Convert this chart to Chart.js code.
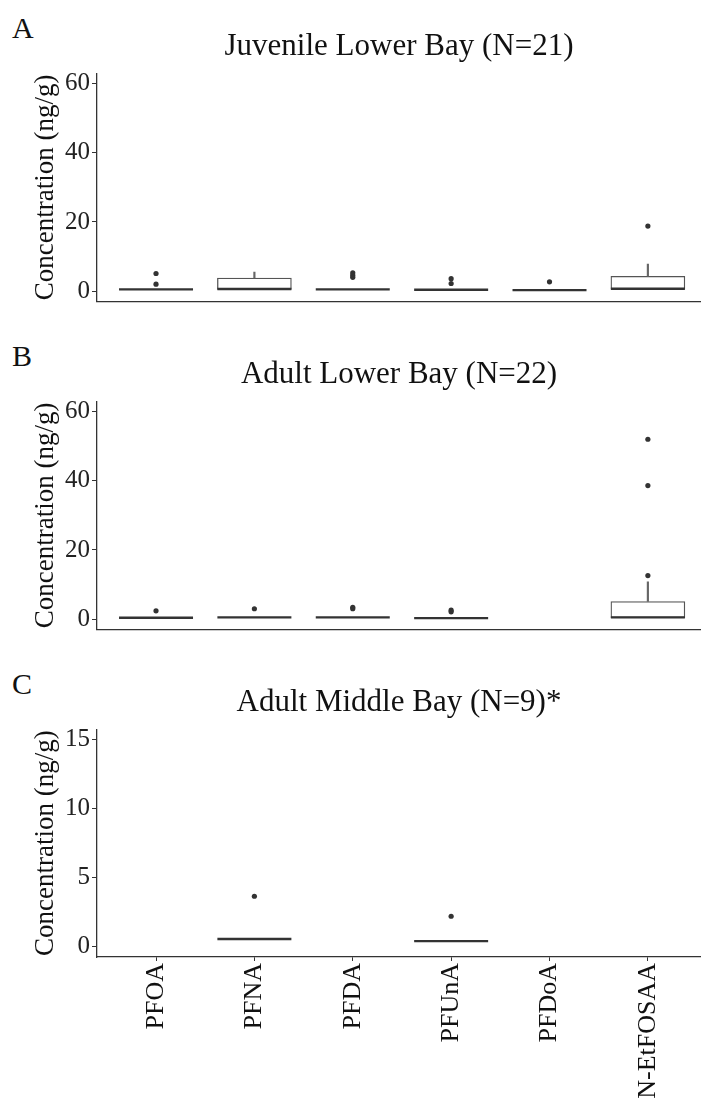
<!DOCTYPE html>
<html>
<head>
<meta charset="utf-8">
<script src="https://cdn.jsdelivr.net/npm/chart.js@4.4.1/dist/chart.umd.min.js"></script>
<style>
  body { margin: 0; width: 701px; height: 1104px; overflow: hidden; background: #fff; position: relative; font-family: 'Liberation Serif', serif; }
  canvas { position: absolute; left: 0; }
  .tag { position: absolute; left: 12px; font-size: 30px; line-height: 30px; color: #111; }
</style>
</head>
<body>
<div class="tag" style="top:13px">A</div>
<div class="tag" style="top:341px">B</div>
<div class="tag" style="top:669px">C</div>
<canvas id="chartA" width="701" height="328" style="top:0px"></canvas>
<canvas id="chartB" width="701" height="328" style="top:328px"></canvas>
<canvas id="chartC" width="701" height="448" style="top:656px"></canvas>
<script>
const compounds = ['PFOA', 'PFNA', 'PFDA', 'PFUnA', 'PFDoA', 'N-EtFOSAA'];
const ticksLarge = [0, 20, 40, 60];
const ticksSmall = [0, 5, 10, 15];

// A - juvenile, lower bay
const juvMedian = [0.5, 0.6, 0.5, 0.4, 0.3, 0.7];
const juvQ1 = [0.5, 0.5, 0.5, 0.4, 0.3, 0.6];
const juvQ3 = [0.5, 3.8, 0.5, 0.4, 0.3, 4.3];
const juvWhiskerHi = [null, 5.5, null, null, null, 7.8];
const juvOutliers = [[5.1, 2.0], [], [5.3, 4.6, 4.0], [3.6, 2.2], [2.7], [18.8]];

// B - adult, lower bay
const adlMedian = [0.4, 0.5, 0.5, 0.3, null, 0.5];
const adlQ1 = [0.4, 0.5, 0.5, 0.3, null, 0.4];
const adlQ3 = [0.4, 0.5, 0.5, 0.3, null, 5.1];
const adlWhiskerHi = [null, null, null, null, null, 10.8];
const adlOutliers = [[2.4], [3.0], [3.0, 3.4], [2.1, 2.6], [], [12.6, 38.6, 52.0]];

// C - adult, middle bay
const admMedian = [null, 0.55, null, 0.4, null, null];
const admQ1 = [null, 0.55, null, 0.4, null, null];
const admQ3 = [null, 0.55, null, 0.4, null, null];
const admWhiskerHi = [null, null, null, null, null, null];
const admOutliers = [[], [3.65], [], [2.2], [], []];

Chart.defaults.font.family = "'Liberation Serif', 'Times New Roman', serif";
Chart.defaults.color = '#111';

function makePanel(id, title, median, q1, q3, whiskerHi, outliers, yMin, yMax, yTicks, showLabels) {
  const boxes = [], whiskers = [], medians = [], points = [];
  compounds.forEach((c, i) => {
    const x = i + 1;
    if (q1[i] != null && q3[i] > q1[i]) boxes.push({ x: x, y: [q1[i], q3[i]] });
    if (whiskerHi[i] != null) whiskers.push({ x: x, y: [q3[i], whiskerHi[i]] });
    if (median[i] != null) medians.push({ x: x, y: median[i] });
    outliers[i].forEach(v => points.push({ x: x, y: v }));
  });

  new Chart(document.getElementById(id), {
    type: 'bar',
    data: {
      datasets: [
        { type: 'bar', data: boxes, backgroundColor: '#fff', borderColor: '#555', borderWidth: 1.3,
          borderSkipped: false, barThickness: 74, grouped: false, order: 4 },
        { type: 'bar', data: whiskers, backgroundColor: '#666', borderWidth: 0,
          barThickness: 1.5, grouped: false, order: 3 },
        { type: 'scatter', data: medians, pointStyle: 'line', pointRadius: 37,
          borderColor: '#333', pointBorderWidth: 2.4, order: 2 },
        { type: 'scatter', data: points, pointRadius: 2.6, backgroundColor: '#333',
          borderWidth: 0, order: 1 }
      ]
    },
    options: {
      responsive: false,
      animation: false,
      events: [],
      layout: { padding: 0, autoPadding: false },
      plugins: {
        legend: { display: false },
        tooltip: { enabled: false },
        title: {
          display: true, text: title, fullSize: false, color: '#111',
          font: { size: 31, weight: 'normal' },
          padding: { top: 28, bottom: 8 }
        }
      },
      scales: {
        x: {
          type: 'linear', min: 0.4, max: 6.54, offset: false,
          afterBuildTicks: s => { s.ticks = compounds.map((c, i) => ({ value: i + 1 })); },
          afterFit: s => { s.height = showLabels ? 147 : 26.5; },
          ticks: {
            display: showLabels, autoSkip: false, maxRotation: 90, minRotation: 90,
            padding: 2, font: { size: 26 }, color: '#111',
            callback: v => compounds[v - 1]
          },
          grid: { offset: false, drawOnChartArea: false, drawTicks: showLabels, tickLength: 4, color: '#333' },
          border: { display: true, color: '#333', width: 1.3 }
        },
        y: {
          min: yMin, max: yMax,
          afterBuildTicks: s => { s.ticks = yTicks.map(v => ({ value: v })); },
          afterFit: s => { s.width = 97; },
          ticks: { font: { size: 25 }, padding: 2, color: '#222' },
          grid: { drawOnChartArea: false, tickLength: 5, color: '#333' },
          border: { display: true, color: '#333', width: 1.3 },
          title: {
            display: true, text: 'Concentration (ng/g)', color: '#111',
            font: { size: 27 }, padding: { top: 30, bottom: 0 }
          }
        }
      }
    }
  });
}

makePanel('chartA', 'Juvenile Lower Bay (N=21)', juvMedian, juvQ1, juvQ3, juvWhiskerHi, juvOutliers, -3, 63, ticksLarge, false);
makePanel('chartB', 'Adult Lower Bay (N=22)', adlMedian, adlQ1, adlQ3, adlWhiskerHi, adlOutliers, -3, 63, ticksLarge, false);
makePanel('chartC', 'Adult Middle Bay (N=9)*', admMedian, admQ1, admQ3, admWhiskerHi, admOutliers, -0.75, 15.75, ticksSmall, true);
</script>
</body>
</html>
